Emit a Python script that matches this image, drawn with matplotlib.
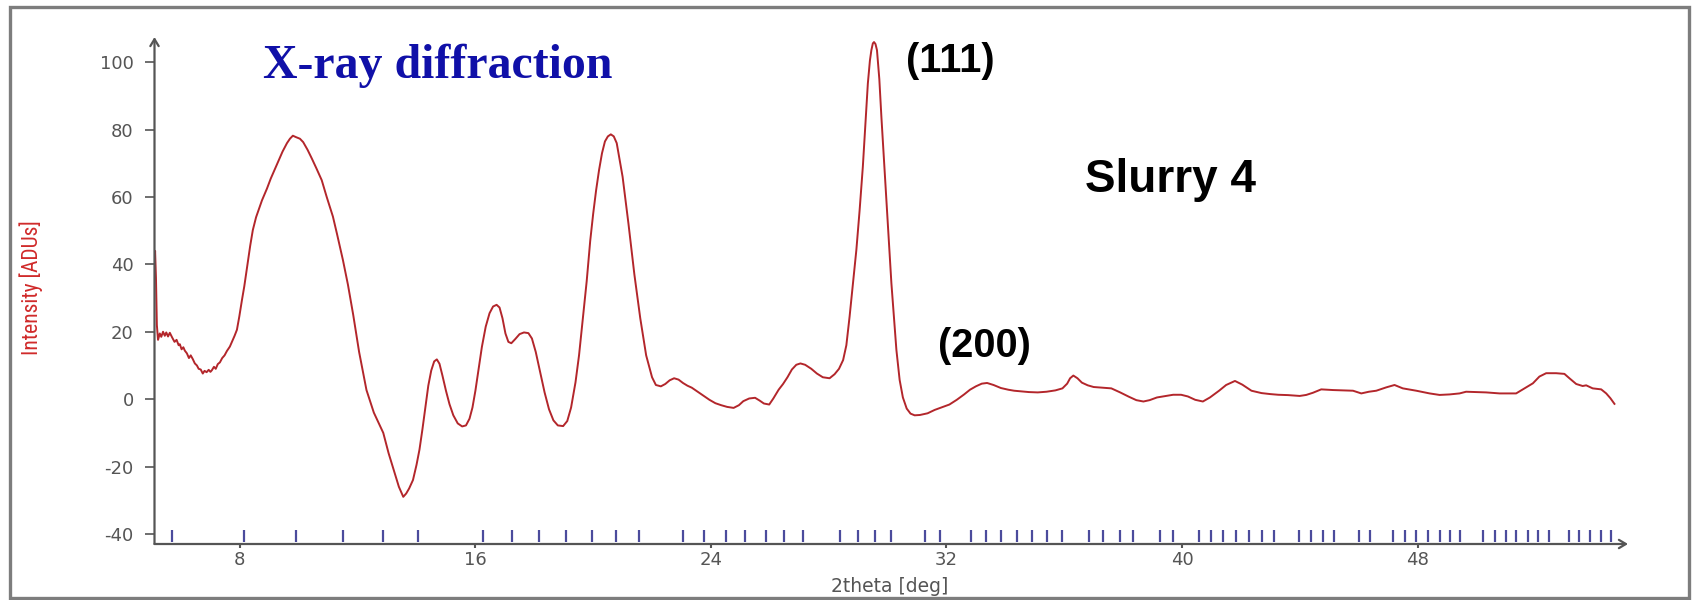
import matplotlib
matplotlib.use("Agg")
import matplotlib.pyplot as plt
from matplotlib import font_manager
from matplotlib.patches import Rectangle

# Diffraction pattern of the slurry sample: 2theta [deg] and intensity [ADUs]
two_theta = [
    5.10, 5.12, 5.15, 5.18, 5.22, 5.28, 5.33, 5.39, 5.45, 5.50, 5.56, 5.62, 5.70, 5.78,
    5.85, 5.92, 5.96, 6.02, 6.08, 6.13, 6.20, 6.27, 6.33, 6.40, 6.47, 6.54, 6.60, 6.67,
    6.74, 6.80, 6.87, 6.94, 7.00, 7.05, 7.12, 7.18, 7.25, 7.32, 7.40, 7.48, 7.56, 7.66,
    7.74, 7.82, 7.90, 7.98, 8.07, 8.15, 8.25, 8.35, 8.44, 8.55, 8.65, 8.75, 8.92, 9.05,
    9.15, 9.25, 9.35, 9.45, 9.60, 9.70, 9.80, 9.90, 10.04, 10.15, 10.30, 10.44, 10.60,
    10.78, 10.95, 11.16, 11.30, 11.50, 11.67, 11.85, 12.05, 12.30, 12.55, 12.87, 13.05,
    13.26, 13.40, 13.55, 13.65, 13.75, 13.88, 14.00, 14.10, 14.20, 14.30, 14.40, 14.50,
    14.60, 14.69, 14.78, 14.88, 15.00, 15.12, 15.25, 15.40, 15.55, 15.68, 15.80, 15.90,
    16.00, 16.10, 16.22, 16.35, 16.48, 16.60, 16.72, 16.82, 16.92, 17.02, 17.12, 17.22,
    17.35, 17.50, 17.65, 17.80, 17.92, 18.05, 18.20, 18.35, 18.50, 18.65, 18.80, 18.98,
    19.12, 19.25, 19.40, 19.52, 19.65, 19.78, 19.90, 20.00, 20.10, 20.20, 20.30, 20.40,
    20.50, 20.60, 20.70, 20.80, 21.00, 21.20, 21.40, 21.60, 21.80, 22.00, 22.13, 22.30,
    22.45, 22.60, 22.75, 22.90, 23.05, 23.20, 23.35, 23.55, 23.75, 23.95, 24.15, 24.35,
    24.55, 24.77, 24.95, 25.10, 25.30, 25.50, 25.65, 25.80, 25.98, 26.12, 26.30, 26.45,
    26.60, 26.75, 26.90, 27.04, 27.20, 27.41, 27.60, 27.80, 28.03, 28.20, 28.35, 28.49,
    28.60, 28.71, 28.82, 28.94, 29.05, 29.16, 29.25, 29.33, 29.40, 29.45, 29.50, 29.54,
    29.59, 29.64, 29.72, 29.79, 29.87, 29.96, 30.05, 30.13, 30.22, 30.30, 30.41, 30.52,
    30.65, 30.78, 30.92, 31.10, 31.36, 31.60, 31.85, 32.10, 32.35, 32.60, 32.80, 33.00,
    33.20, 33.38, 33.60, 33.85, 34.10, 34.30, 34.55, 34.80, 35.10, 35.40, 35.70, 35.94,
    36.10, 36.20, 36.31, 36.45, 36.60, 36.80, 37.00, 37.30, 37.60, 37.90, 38.20, 38.45,
    38.69, 38.90, 39.15, 39.42, 39.70, 39.97, 40.20, 40.45, 40.71, 40.95, 41.26, 41.50,
    41.80, 42.05, 42.36, 42.70, 43.00, 43.27, 43.60, 44.00, 44.22, 44.45, 44.73, 45.13,
    45.50, 45.81, 46.09, 46.35, 46.60, 46.94, 47.22, 47.50, 47.96, 48.41, 48.75, 49.09,
    49.43, 49.65, 50.00, 50.33, 50.79, 51.35, 51.58, 51.92, 52.14, 52.37, 52.71, 52.99,
    53.16, 53.39, 53.61, 53.73, 53.95, 54.24, 54.41, 54.55, 54.69,
]
intensity = [
    38.0, 44.0, 36.0, 22.0, 17.6, 19.5, 18.5, 20.0, 18.8, 19.8, 18.6, 19.7, 18.3, 17.0,
    17.6, 16.0, 16.3, 14.8, 15.4, 14.4, 13.6, 12.2, 13.0, 11.9, 10.6, 10.0, 9.0, 8.8,
    7.6, 8.4, 8.0, 8.7, 8.1, 8.6, 9.6, 9.0, 10.4, 10.9, 12.2, 13.0, 14.3, 15.6,
    17.2, 18.8, 20.6, 24.5, 29.4, 33.5, 39.5, 45.5, 50.2, 54.0, 56.5, 59.0, 62.5, 65.5,
    67.5, 69.5, 71.5, 73.5, 76.0, 77.3, 78.2, 77.8, 77.3, 76.3, 74.0, 71.5, 68.5,
    65.0, 60.0, 54.2, 49.0, 41.3, 34.0, 25.0, 14.0, 2.7, -4.0, -10.0, -16.0,
    -22.0, -26.0, -29.0, -28.0, -26.5, -24.0, -19.5, -15.0, -9.0, -2.5, 4.0, 8.5,
    11.2, 11.8, 10.5, 7.0, 2.5, -1.5, -4.8, -7.2, -8.1, -7.8, -5.8, -2.5,
    2.5, 8.5, 15.5, 21.5, 25.5, 27.5, 28.0, 27.2, 24.0, 19.5, 17.0, 16.6,
    17.8, 19.3, 19.8, 19.6, 18.0, 14.0, 8.0, 2.0, -3.0, -6.3, -7.8, -8.0,
    -6.5, -2.5, 5.0, 13.0, 24.0, 35.0, 47.0, 55.0, 62.0, 68.0, 73.0, 76.5,
    78.0, 78.6, 78.0, 76.0, 66.0, 52.0, 37.0, 24.0, 13.0, 6.5, 4.2, 3.8,
    4.5, 5.6, 6.2, 5.8, 4.8, 4.0, 3.4, 2.2, 1.0, -0.2, -1.2, -1.8,
    -2.3, -2.6, -1.8, -0.6, 0.2, 0.4, -0.4, -1.3, -1.6, 0.2, 2.8, 4.5,
    6.5, 8.8, 10.2, 10.6, 10.2, 9.0, 7.6, 6.5, 6.2, 7.4, 9.0, 11.6,
    16.0, 24.5, 34.0, 44.3, 56.0, 69.0, 82.0, 93.7, 100.5, 103.6, 105.6, 106.0,
    105.4, 103.6, 95.0, 83.8, 72.0, 59.1, 46.0, 34.4, 24.0, 14.6, 5.7, 0.5,
    -2.8, -4.3, -4.8, -4.7, -4.2, -3.2, -2.4, -1.6, -0.2, 1.4, 2.8, 3.8,
    4.6, 4.8, 4.2, 3.3, 2.8, 2.5, 2.3, 2.1, 2.0, 2.2, 2.6, 3.2,
    4.6, 6.2, 7.0, 6.2, 4.9, 4.1, 3.6, 3.4, 3.2, 2.0, 0.7, -0.3,
    -0.7, -0.3, 0.5, 0.9, 1.3, 1.3, 0.8, -0.2, -0.7, 0.5, 2.5, 4.2,
    5.4, 4.3, 2.5, 1.8, 1.5, 1.3, 1.2, 0.95, 1.25, 1.9, 2.9, 2.7,
    2.6, 2.5, 1.7, 2.2, 2.5, 3.5, 4.2, 3.2, 2.5, 1.7, 1.25, 1.4,
    1.7, 2.2, 2.1, 2.0, 1.7, 1.7, 2.9, 4.7, 6.7, 7.7, 7.7, 7.5,
    6.2, 4.5, 3.9, 4.1, 3.2, 2.9, 1.7, 0.3, -1.4,
]

# Reflection positions marked along the 2theta axis
reflection_positions = [
    5.71, 8.15, 9.90, 11.49, 12.87,
    14.05, 16.26, 17.26, 18.16, 19.09, 19.96, 20.76, 21.56,
    23.05, 23.77, 24.50, 25.17, 25.88, 26.48, 27.12, 28.37, 28.99, 29.58, 30.13,
    31.26, 31.79, 32.82, 33.33, 33.86, 34.39, 34.91, 35.42, 35.93, 36.84, 37.33,
    37.88, 38.33,
    39.24, 39.69, 40.58, 40.99, 41.41, 41.84, 42.29, 42.71, 43.11, 43.97, 44.39,
    44.78, 45.18, 46.01, 46.39, 47.16,
    47.56, 47.96, 48.35, 48.75, 49.09, 49.45, 50.22, 50.62, 50.99, 51.35, 51.75,
    52.09, 52.45, 53.14, 53.50, 53.87, 54.24, 54.58,
]

x_ticks = [8, 16, 24, 32, 40, 48]
y_ticks = [-40, -20, 0, 20, 40, 60, 80, 100]

title_text = "X-ray diffraction"
sample_text = "Slurry 4"
peak_labels = ["(111)", "(200)"]


def pick_narrow_family():
    names = {f.name for f in font_manager.fontManager.ttflist}
    for cand in ["Liberation Sans Narrow", "Roboto Condensed", "Open Sans Condensed", "DejaVu Sans"]:
        if cand in names:
            return cand
    return "DejaVu Sans"


narrow_family = pick_narrow_family()

W, H = 1692, 600
fig = plt.figure(figsize=(W / 100, H / 100), dpi=100)
fig.patch.set_facecolor("white")

ax_left, ax_right, ax_bottom, ax_top = 154.5, 1628, 544, 37
ax = fig.add_axes([ax_left / W, (H - ax_bottom) / H,
                   (ax_right - ax_left) / W, (ax_bottom - ax_top) / H])
ax.set_facecolor("white")

axis_gray = "#555555"

ax.plot(two_theta, intensity, color="#b3262b", lw=1.4, solid_joinstyle="round")

# reflection markers just above the 2theta axis
ax.vlines(reflection_positions, 0.004, 0.028, transform=ax.get_xaxis_transform(),
          color="#4b4b9c", lw=1.6)

ax.set_xlim(5.1, 55.15)
ax.set_ylim(-43.0, 107.5)

for side in ["top", "right", "left", "bottom"]:
    ax.spines[side].set_visible(False)

# axis lines with open arrow heads
arrow_kw = dict(arrowstyle="->,head_length=0.5,head_width=0.3", color=axis_gray, lw=1.6,
                shrinkA=0, shrinkB=0)
ax.annotate("", xy=(1.0, 0.0), xytext=(0.0, 0.0), xycoords="axes fraction",
            textcoords="axes fraction", arrowprops=arrow_kw)
ax.annotate("", xy=(0.0, 1.0), xytext=(0.0, 0.0), xycoords="axes fraction",
            textcoords="axes fraction", arrowprops=arrow_kw)

ax.set_xticks(x_ticks)
ax.set_yticks(y_ticks)
ax.set_xticklabels([str(v) for v in x_ticks])
ax.set_yticklabels([str(v) for v in y_ticks])
ax.tick_params(axis="y", length=7, width=1.2, color=axis_gray, labelcolor=axis_gray,
               labelsize=13, pad=8)
ax.tick_params(axis="x", length=3, width=1.5, color=axis_gray, labelcolor=axis_gray,
               labelsize=13, pad=2)
for lab in ax.get_xticklabels() + ax.get_yticklabels():
    lab.set_family("DejaVu Sans")

fig.text(890 / W, (H - 586) / H, "2theta [deg]", ha="center", va="center",
         fontsize=13.5, color=axis_gray, family="DejaVu Sans")
fig.text(31 / W, (H - 288) / H, "Intensity [ADUs]", ha="center", va="center",
         rotation=90, fontsize=15.5, color="#d02a2a", family=narrow_family,
         fontstretch="condensed")

fig.text(263 / W, (H - 78) / H, title_text, ha="left", va="baseline",
         fontsize=34.5, fontweight="bold", color="#1010a8", family="Liberation Serif")
fig.text(906 / W, (H - 72) / H, peak_labels[0], ha="left", va="baseline",
         fontsize=28.5, fontweight="bold", color="black", family="Liberation Sans")
fig.text(938 / W, (H - 357) / H, peak_labels[1], ha="left", va="baseline",
         fontsize=28.5, fontweight="bold", color="black", family="Liberation Sans")
fig.text(1085 / W, (H - 192) / H, sample_text, ha="left", va="baseline",
         fontsize=33, fontweight="bold", color="black", family="Liberation Sans")

# grey frame around the whole panel
fig.patches.append(Rectangle((10 / W, 2 / H), (1689 - 10) / W, (598 - 7) / H,
                             transform=fig.transFigure, fill=False,
                             edgecolor="#7d7d7d", lw=2.4))

fig.savefig("out.png", dpi=100, facecolor="white")
